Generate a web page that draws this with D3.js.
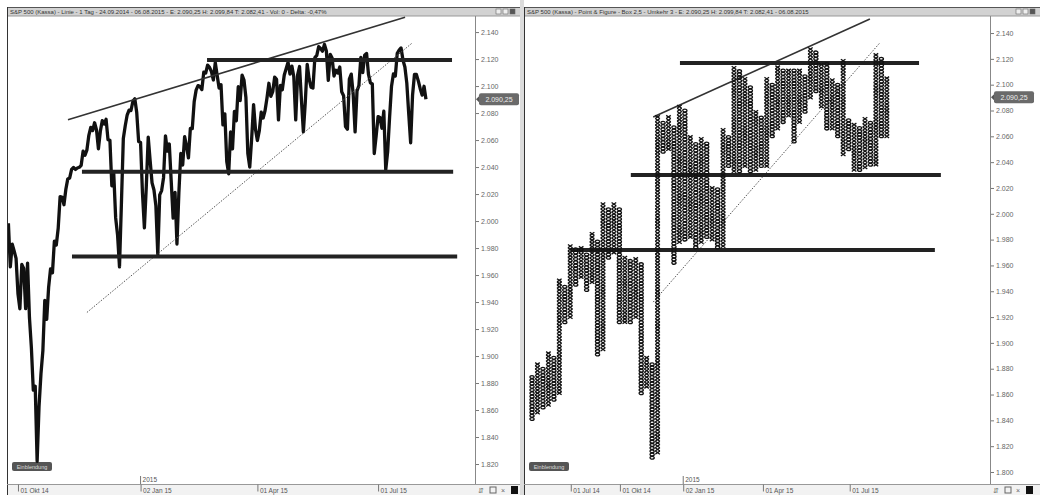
<!DOCTYPE html>
<html><head><meta charset="utf-8">
<script src="https://cdn.jsdelivr.net/npm/d3@7"></script>
<style>
html,body{margin:0;padding:0;background:#fff;overflow:hidden;}
svg{display:block;font-family:"Liberation Sans",Arial,sans-serif;}
</style></head><body>
<svg id="c" width="1040" height="495"></svg>
<script>
// ---------- DATA ----------
// Left panel: S&P 500 daily line, trading days from 24 Sep 2014 to 06 Aug 2015
const spxClose = [
1998.30,1965.99,1982.85,1977.80,1972.29,
1946.16,1935.00,1967.90,1964.82,1935.10,1968.89,1928.21,1906.13,1874.74,1877.70,1822.00,1862.76,1886.76,1904.01,1941.28,1927.11,1950.82,1964.58,1961.63,1985.05,1982.30,1994.65,2018.05,
2017.81,2012.10,2023.57,2031.21,2031.92,2038.26,2039.68,2038.25,2039.33,2039.82,2041.32,2051.80,2048.72,2052.75,2063.50,2069.41,2067.03,2072.83,2067.56,
2053.44,2066.55,2074.33,2071.92,2075.37,2060.31,2059.82,2026.14,2035.33,2002.33,1989.63,1966.00,2012.89,2061.23,2070.65,2078.54,2082.17,2081.88,2088.77,2090.57,2080.35,2058.90,
2058.20,2020.58,1995.00,2025.90,2062.14,2044.81,2028.26,2023.03,2011.27,1975.00,2019.42,2022.55,2032.12,2063.15,2051.82,2057.09,2029.55,2002.16,2021.25,1983.00,
2020.85,2050.03,2041.51,2062.52,2055.47,2046.74,2068.59,2068.53,2088.48,2096.99,2100.34,2099.68,2097.45,2110.30,2109.66,2115.48,2113.86,2110.74,2104.50,
2117.39,2107.78,2098.53,2101.04,2071.26,2079.43,2044.16,2035.00,2065.95,2053.40,2081.19,2074.28,2099.50,2089.27,2108.10,2104.42,2091.50,2050.00,2040.00,2061.02,2086.24,2067.89,
2059.69,2066.96,2080.62,2076.33,2081.90,2091.18,2102.06,2092.43,2095.84,2106.63,2104.99,2075.00,2100.40,2097.29,2107.96,2112.93,2117.69,2108.92,2114.76,2106.85,2075.00,
2108.29,2114.49,2089.46,2066.00,2088.00,2116.10,2105.33,2099.12,2098.48,2121.10,2122.73,2129.20,2127.83,2125.85,2130.82,2126.06,2104.20,2123.48,2120.79,2107.39,
2111.73,2109.60,2114.07,2095.84,2092.83,2070.00,2068.00,2105.20,2108.86,2094.11,2066.00,2096.29,2100.44,2121.24,2109.99,2122.85,2124.20,2108.58,2102.31,2101.49,2050.00,2063.11,
2077.42,2076.78,2068.76,2081.34,2038.00,2051.31,2076.62,2099.60,2108.95,2107.40,2124.29,2126.64,2128.28,2119.21,2114.15,2102.15,2079.65,2058.00,2093.25,2108.57,2108.63,2103.84,
2098.04,2093.32,2099.84,2090.25
];
const leftTickIdx = [5, 69, 130, 193];
const leftTickLabels = ["01 Okt 14", "02 Jan 15", "01 Apr 15", "01 Jul 15"];
const leftYearIdx = 69;
const yearLabel = "2015";
const leftYTicks = [1820,1840,1860,1880,1900,1920,1940,1960,1980,2000,2020,2040,2060,2080,2100,2120,2140];
const leftLevels = [2119.3, 2036.5, 1973.7];
const leftLevelFrom = [103.7, 38.4, 33.2];
const leftLevelTo = [231.6, 232.2, 234.3];
const leftUpperTrend = [[31.1, 2075], [207.1, 2151]];
const leftDottedTrend = [[41, 1932.3], [210.8, 2131.9]];

// Right panel: point & figure columns (first column is O, then alternating)
const pfLow  = [1841,1846,1850,1852,1856,1861,1916,1920,1945,1951,1941,1947,1891,1895,1966,1970,1916,1916,1916,1920,1861,1866,1811,1815,2048,2050,1962,1978,1980,1982,1974,1978,1982,1980,1974,1975,2037,2033,2033,2037,2033,2034,2037,2037,2060,2066,2071,2076,2056,2071,2079,2090,2095,2083,2066,2066,2060,2046,2050,2034,2034,2036,2038,2038,2060,2060];
const pfHigh = [1875,1885,1880,1894,1889,1950,1944,1975,1974,1975,1970,1985,1980,2009,2005,2009,2005,1966,1965,1965,1961,1889,1885,2076,2071,2075,2069,2083,2081,2060,2056,2060,2055,2020,2019,2066,2060,2114,2111,2106,2100,2081,2076,2106,2100,2114,2111,2112,2111,2111,2107,2129,2125,2116,2116,2104,2100,2120,2073,2069,2067,2075,2071,2125,2120,2106];
const pfFirstType = "O";
const pfBox = 2.5;
const pfTickCols = [7.1, 16.1, 27.7, 42.3, 58.2];
const pfTickLabels = ["01 Jul 14", "01 Okt 14", "02 Jan 15", "01 Apr 15", "01 Jul 15"];
const pfYearCol = 27.7;
const rightYTicks = [1800,1820,1840,1860,1880,1900,1920,1940,1960,1980,2000,2020,2040,2060,2080,2100,2120,2140];
const pfLevels = [2116.8, 2030.0, 1971.9];
const pfLevelFrom = [27.1, 18.1, 7.0];
const pfLevelTo = [70.9, 74.9, 73.8];
const pfUpperTrend = [[22.2, 2074.9], [61.9, 2150.8]];
const pfDottedTrend = [[22.2, 1931.6], [63.7, 2132.3]];

const lastValue = 2090.25;
const lastValueLabel = "2.090,25";
const eventLabel = "Einblendung";
const leftTitle = "S&P 500 (Kassa) - Linie - 1 Tag - 24.09.2014 - 06.08.2015 - E: 2.090,25 H: 2.099,84 T: 2.082,41 - Vol: 0 - Delta: -0,47%";
const rightTitle = "S&P 500 (Kassa) - Point & Figure - Box 2,5 - Umkehr 3 - E: 2.090,25 H: 2.099,84 T: 2.082,41 - 06.08.2015";

// ---------- DRAW ----------
const svg = d3.select("#c");
const fmt = v => d3.format(",")(v).replace(/,/g, ".");

function panel(o) {
  const g = svg.append("g");
  g.append("rect").attr("x", o.left).attr("y", 7).attr("width", o.outerRight - o.left).attr("height", 9).attr("fill", "#d2d2d2");
  g.append("line").attr("x1", o.left).attr("x2", o.outerRight).attr("y1", 7.5).attr("y2", 7.5).attr("stroke", "#555");
  g.append("line").attr("x1", o.left).attr("x2", o.outerRight).attr("y1", 16).attr("y2", 16).attr("stroke", "#999");
  g.append("text").attr("x", o.left + 3).attr("y", 14).attr("font-size", 6).attr("fill", "#333").text(o.title);
  [0, 1, 2].forEach(k => g.append("rect").attr("x", o.outerRight - 24 + k * 7).attr("y", 9).attr("width", 5).attr("height", 5)
    .attr("fill", k === 2 ? "#555" : "#eee").attr("stroke", "#666").attr("stroke-width", 0.6));
  g.append("line").attr("x1", o.left + 0.5).attr("x2", o.left + 0.5).attr("y1", 7).attr("y2", 495).attr("stroke", "#333");
  g.append("rect").attr("x", o.left + 1).attr("y", 485).attr("width", o.outerRight - o.left - 1).attr("height", 10).attr("fill", "#f2f2f2");
  g.append("line").attr("x1", o.left).attr("x2", o.outerRight).attr("y1", 484.5).attr("y2", 484.5).attr("stroke", "#999");
  const ax = g.append("g").attr("transform", `translate(${o.right},0)`);
  const minor = d3.range(o.y.domain()[0], o.y.domain()[1], 1).filter(v => v % 5 === 0 && v % 20 !== 0);
  ax.append("g").call(d3.axisRight(o.y).tickValues(minor).tickSize(2).tickFormat(""))
    .call(s => s.select(".domain").remove()).selectAll("line").attr("stroke", "#888");
  ax.append("g").call(d3.axisRight(o.y).tickValues(o.yTicks).tickSize(4).tickFormat(fmt).tickPadding(2))
    .call(s => s.select(".domain").remove())
    .call(s => s.selectAll("line").attr("stroke", "#777"))
    .call(s => s.selectAll("text").attr("font-size", 7).attr("fill", "#666").attr("font-family", "Liberation Sans, Arial, sans-serif"));
  g.append("line").attr("x1", o.right + 0.5).attr("x2", o.right + 0.5).attr("y1", 16).attr("y2", 484).attr("stroke", "#888");
  const xa = g.append("g").attr("transform", "translate(0,484.5)");
  xa.call(d3.axisBottom(o.x).tickValues(o.xTicks).tickSize(7).tickFormat((d, i) => o.xLabels[i]).tickPadding(0))
    .call(s => s.select(".domain").remove())
    .call(s => s.selectAll("line").attr("stroke", "#777"))
    .call(s => s.selectAll("text").attr("font-size", 6.5).attr("fill", "#555").attr("text-anchor", "start")
      .attr("dx", 2).attr("y", 8.8).attr("dy", 0).attr("font-family", "Liberation Sans, Arial, sans-serif"));
  g.append("text").attr("x", o.x(o.yearAt) + 2).attr("y", 482).attr("font-size", 6.5).attr("fill", "#555").text(yearLabel);
  g.append("line").attr("x1", o.x(o.yearAt)).attr("x2", o.x(o.yearAt)).attr("y1", 476).attr("y2", 484).attr("stroke", "#777");
  const vy = o.y(lastValue);
  g.append("path").attr("d", `M${o.right + 1},${vy} L${o.right + 5},${vy - 4} L${o.right + 5},${vy + 4} Z`).attr("fill", "#555");
  g.append("rect").attr("x", o.right + 4).attr("y", vy - 6).attr("width", 40).attr("height", 12).attr("rx", 2).attr("fill", "#6a6a6a");
  g.append("text").attr("x", o.right + 24).attr("y", vy + 2.5).attr("text-anchor", "middle").attr("font-size", 7).attr("fill", "#eee").text(lastValueLabel);
  const ix = o.right + 3;
  g.append("text").attr("x", ix).attr("y", 493).attr("font-size", 7).attr("fill", "#666").text("⇵");
  g.append("rect").attr("x", ix + 12).attr("y", 487).attr("width", 6).attr("height", 6).attr("fill", "none").attr("stroke", "#666");
  g.append("text").attr("x", ix + 23).attr("y", 493).attr("font-size", 7).attr("fill", "#666").text("×");
  g.append("rect").attr("x", ix + 33).attr("y", 486).attr("width", 7).attr("height", 8).attr("fill", "#111");
  g.append("rect").attr("x", o.left + 5).attr("y", 462).attr("width", 40).attr("height", 9).attr("rx", 2).attr("fill", "#555");
  g.append("text").attr("x", o.left + 25).attr("y", 469).attr("text-anchor", "middle").attr("font-size", 5.5).attr("fill", "#ddd").text(eventLabel);
  const id = "clip" + o.left;
  svg.append("clipPath").attr("id", id).append("rect").attr("x", o.left + 1).attr("y", 16).attr("width", o.right - o.left - 1).attr("height", 468);
  return g.append("g").attr("clip-path", `url(#${id})`);
}

function drawLevels(p, x, y, levels, from, to, upper, dotted) {
  p.append("line").attr("x1", x(dotted[0][0])).attr("y1", y(dotted[0][1])).attr("x2", x(dotted[1][0])).attr("y2", y(dotted[1][1]))
    .attr("stroke", "#555").attr("stroke-width", 1).attr("stroke-dasharray", "1.5,1.5");
  p.append("line").attr("x1", x(upper[0][0])).attr("y1", y(upper[0][1])).attr("x2", x(upper[1][0])).attr("y2", y(upper[1][1]))
    .attr("stroke", "#333").attr("stroke-width", 1.6);
  levels.forEach((v, i) => p.append("line").attr("x1", x(from[i])).attr("x2", x(to[i])).attr("y1", y(v)).attr("y2", y(v))
    .attr("stroke", "#222").attr("stroke-width", 4));
}

// Left panel
const xL = d3.scaleLinear().domain([-0.73, 243.6]).range([7, 475]);
const yL = d3.scaleLinear().domain([1805.2, 2151.9]).range([484, 16]);
const pL = panel({left: 7, right: 475, outerRight: 520, x: xL, y: yL, yTicks: leftYTicks, xTicks: leftTickIdx, xLabels: leftTickLabels, yearAt: leftYearIdx, title: leftTitle});
pL.append("path").datum(spxClose).attr("fill", "none").attr("stroke", "#111").attr("stroke-width", 3.3).attr("stroke-linejoin", "round")
  .attr("d", d3.line().x((d, i) => xL(i)).y(d => yL(d)));
drawLevels(pL, xL, yL, leftLevels, leftLevelFrom, leftLevelTo, leftUpperTrend, leftDottedTrend);

svg.append("rect").attr("x", 520).attr("y", 0).attr("width", 4).attr("height", 495).attr("fill", "#dcdcdc");

// Right panel
const xR = d3.scaleLinear().domain([-0.92, 83.9]).range([527, 990]);
const yR = d3.scaleLinear().domain([1790.7, 2153.2]).range([484, 16]);
const pR = panel({left: 524, right: 990, outerRight: 1040, x: xR, y: yR, yTicks: rightYTicks, xTicks: pfTickCols, xLabels: pfTickLabels, yearAt: pfYearCol, title: rightTitle});
drawLevels(pR, xR, yR, pfLevels, pfLevelFrom, pfLevelTo, pfUpperTrend, pfDottedTrend);
const cols = pfLow.map((lo, i) => ({i, lo, hi: pfHigh[i], type: (i % 2 === 0) === (pfFirstType === "O") ? "O" : "X"}));
const cg = pR.append("g").selectAll("g").data(cols).join("g").attr("transform", d => `translate(${xR(d.i)},0)`);
cg.each(function(d) {
  const boxes = d3.range(d.lo, d.hi + 0.01, pfBox);
  const s = d3.select(this);
  if (d.type === "X") {
    s.selectAll("path").data(boxes).join("path")
      .attr("d", v => { const yy = yR(v); return `M-2.3,${yy - 1.6}L2.3,${yy + 1.6}M-2.3,${yy + 1.6}L2.3,${yy - 1.6}`; })
      .attr("stroke", "#111").attr("stroke-width", 1.3).attr("fill", "none");
  } else {
    s.selectAll("ellipse").data(boxes).join("ellipse")
      .attr("cx", 0).attr("cy", v => yR(v)).attr("rx", 2.1).attr("ry", 1.4)
      .attr("stroke", "#111").attr("stroke-width", 1.3).attr("fill", "none");
  }
});
</script>
</body></html>
